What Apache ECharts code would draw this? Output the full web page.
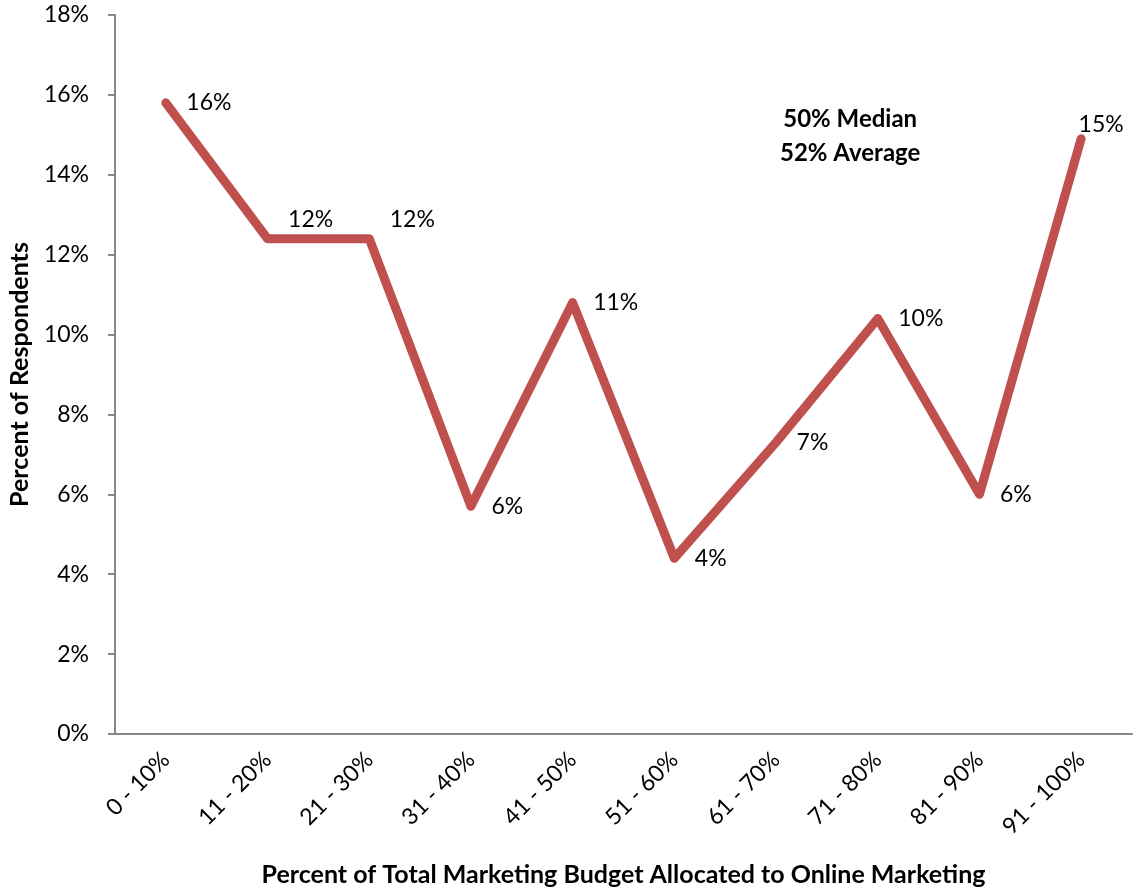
<!DOCTYPE html>
<html>
<head>
<meta charset="utf-8">
<script src="https://cdn.jsdelivr.net/npm/echarts@6/dist/echarts.min.js"></script>
<style>
  html, body { margin: 0; padding: 0; background: #fff; }
  #chart { width: 1133px; height: 890px; }
</style>
</head>
<body>
<div id="chart"></div>
<script>
// Share of respondents by portion of marketing budget spent online
const categories = ['0 - 10%', '11 - 20%', '21 - 30%', '31 - 40%', '41 - 50%',
                    '51 - 60%', '61 - 70%', '71 - 80%', '81 - 90%', '91 - 100%'];
const respondents = [15.8, 12.4, 12.4, 5.7, 10.8, 4.4, 7.3, 10.4, 6.0, 14.9];
const yTicks = { min: 0, max: 18, step: 2 };
const summaryLines = ['50% Median', '52% Average'];
const xTitle = 'Percent of Total Marketing Budget Allocated to Online Marketing';
const yTitle = 'Percent of Respondents';

const FONT = 'Lato, "Open Sans", sans-serif';
const LINE_RED = '#C0504D';
const AXIS_GREY = '#868686';

// per-point label placement overrides (index -> label options)
const labelPlacement = {
  1: { offset: [0, -19] },
  2: { offset: [0, -19] },
  9: { position: 'top', offset: [20, 18] }
};

const seriesData = respondents.map((v, i) => {
  const item = { value: v };
  if (labelPlacement[i]) item.label = labelPlacement[i];
  return item;
});

const chart = echarts.init(document.getElementById('chart'), null, { renderer: 'canvas' });
chart.setOption({
  animation: false,
  backgroundColor: '#ffffff',
  textStyle: { fontFamily: FONT },
  grid: { left: 115, right: 1, top: 15, bottom: 156, containLabel: false, outerBoundsMode: 'none' },
  xAxis: {
    type: 'category',
    data: categories,
    boundaryGap: true,
    axisLine: { lineStyle: { color: AXIS_GREY, width: 2 } },
    axisTick: { show: false },
    axisLabel: { rotate: 45, margin: 22, color: '#000', fontSize: 23, fontFamily: FONT },
    name: xTitle,
    nameLocation: 'middle',
    nameGap: 128,
    nameTextStyle: { fontWeight: 'bold', fontSize: 25, color: '#000', fontFamily: FONT }
  },
  yAxis: {
    type: 'value',
    min: yTicks.min,
    max: yTicks.max,
    interval: yTicks.step,
    axisLine: { show: true, lineStyle: { color: AXIS_GREY, width: 2 } },
    axisTick: { show: true, length: 7, lineStyle: { color: AXIS_GREY, width: 2 } },
    splitLine: { show: false },
    axisLabel: { formatter: v => v + '%', margin: 26, color: '#000', fontSize: 23, fontFamily: FONT },
    name: yTitle,
    nameLocation: 'middle',
    nameGap: 83,
    nameTextStyle: { fontWeight: 'bold', fontSize: 25, color: '#000', fontFamily: FONT }
  },
  series: [{
    type: 'line',
    data: seriesData,
    symbol: 'circle',
    symbolSize: 1,
    itemStyle: { color: LINE_RED },
    lineStyle: { color: LINE_RED, width: 9, cap: 'round', join: 'round' },
    label: {
      show: true,
      position: 'right',
      distance: 20,
      formatter: p => Math.round(p.value) + '%',
      color: '#000',
      fontSize: 23,
      fontFamily: FONT
    }
  }],
  graphic: [{
    type: 'text',
    left: 780,
    top: 102,
    style: {
      text: summaryLines.join('\n'),
      textAlign: 'center',
      fontFamily: FONT,
      fontWeight: 'bold',
      fontSize: 24,
      lineHeight: 34,
      fill: '#000'
    }
  }]
});
</script>
</body>
</html>
